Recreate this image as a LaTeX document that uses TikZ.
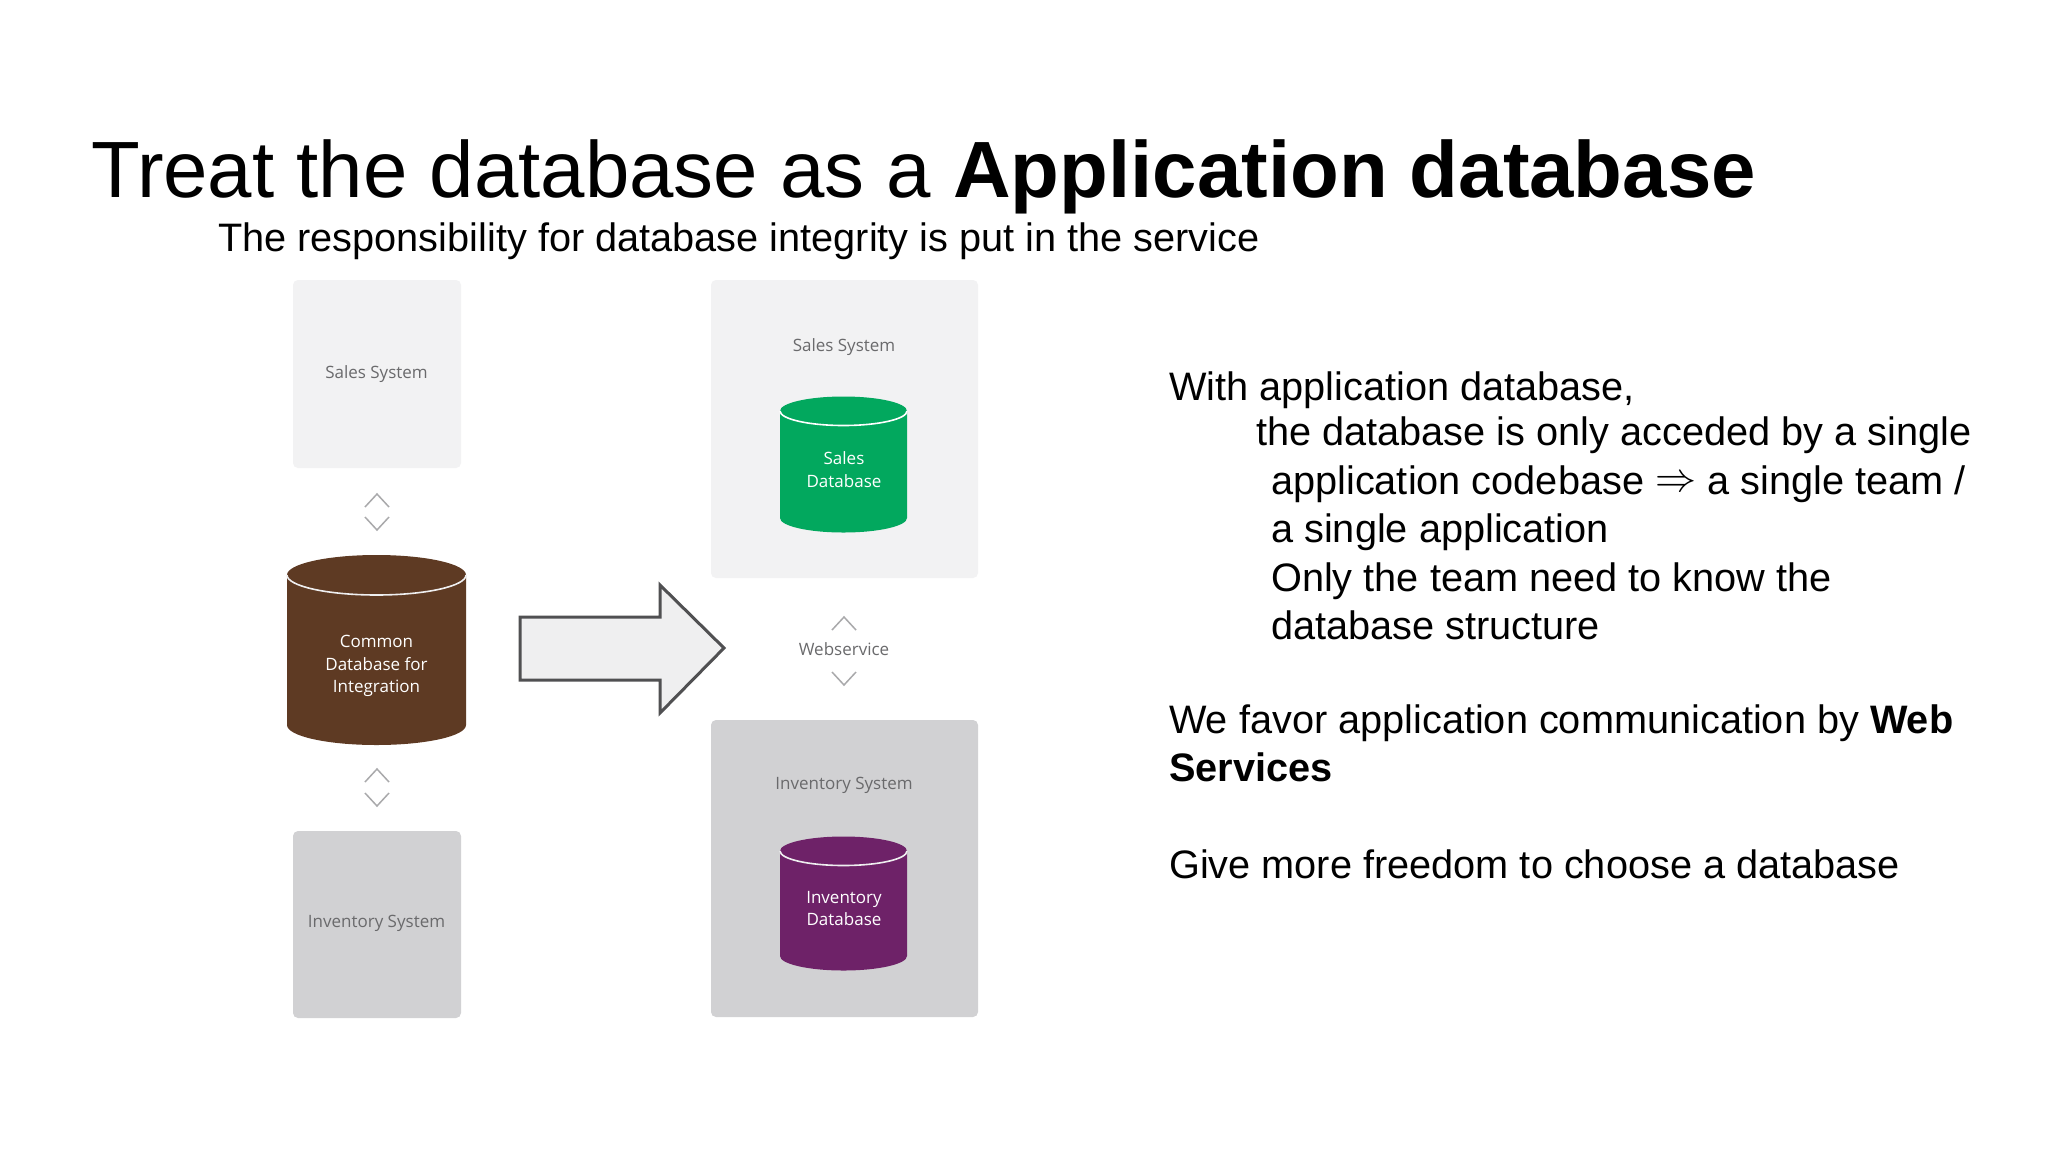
\documentclass[tikz,border=0pt]{standalone}
\usepackage{fontspec}
\setmainfont{Liberation Sans}
\newfontfamily\diagfont{Open Sans}
\definecolor{boxlight}{HTML}{F2F2F3}
\definecolor{boxdark}{HTML}{D1D1D3}
\definecolor{dbbrown}{HTML}{5E3A23}
\definecolor{dbgreen}{HTML}{02A85E}
\definecolor{dbpurple}{HTML}{6E2268}
\definecolor{labelgrey}{HTML}{6A6A6C}
\definecolor{chevgrey}{HTML}{A9A9AB}
\definecolor{arrowedge}{HTML}{505052}
\definecolor{arrowfill}{HTML}{EFEFF0}
\tikzset{
  sysbox/.style={rounded corners=5pt,draw=none},
  syslabel/.style={font=\diagfont\fontsize{17}{22}\selectfont,text=labelgrey,inner sep=0pt,align=center},
  dblabel/.style={font=\diagfont\fontsize{17}{22.6}\selectfont,text=white,inner sep=0pt,align=center},
  chevron/.style={draw=chevgrey,line width=1.5pt,line join=miter},
  title/.style={anchor=base west,inner sep=0pt,font=\fontsize{79.8}{90}\selectfont},
  subtitle/.style={anchor=base west,inner sep=0pt,font=\fontsize{39.7}{48}\selectfont},
  bodytext/.style={anchor=base west,inner sep=0pt,font=\fontsize{39.7}{48}\selectfont},
  rim/.style={draw=#1,line width=1.6pt}
}
% x1, x2, rim centre y, bottom side y, ry, colour, rim colour
\newcommand{\dbcyl}[7]{%
  \fill[#6] (#1,#3) arc[start angle=180,end angle=360,x radius={(#2-#1)/2},y radius=#5]
    -- (#2,#4) arc[start angle=0,end angle=180,x radius={(#2-#1)/2},y radius=#5] -- cycle;
  \draw[rim=#7] (#1,#3) arc[start angle=180,end angle=0,x radius={(#2-#1)/2},y radius=#5];
}
\newcommand{\chevup}[2]{\draw[chevron] (#1-12,#2+13) -- (#1,#2) -- (#1+12,#2+13);}
\newcommand{\chevdown}[2]{\draw[chevron] (#1-12,#2-13) -- (#1,#2) -- (#1+12,#2-13);}
\begin{document}
\begin{tikzpicture}[x=1pt,y=-1pt]
\useasboundingbox (0,0) rectangle (2048,1152);
\fill[white] (0,0) rectangle (2048,1152);

\node[title] (ttl) at (91,197) {Treat the database as a \textbf{Application database}};
\node[subtitle] (sub) at (218,251) {The responsibility for database integrity is put in the service};

% left column
\fill[sysbox,boxlight] (293,280) rectangle (461,468);
\node[syslabel] (lsales) at (376.5,374) {Sales System};
\chevup{377}{494}\chevdown{377}{530}
\dbcyl{287}{466}{575}{725}{20}{dbbrown}{arrowfill}
\node[dblabel] (lcommon) at (376.5,666) {Common\\Database for\\Integration};
\chevup{377}{769}\chevdown{377}{806}
\fill[sysbox,boxdark] (293,831) rectangle (461,1018);
\node[syslabel] (linv) at (376.5,923.5) {Inventory System};

% arrow
\draw[draw=arrowedge,fill=arrowfill,line width=3pt,line join=miter]
  (520,617) -- (660,617) -- (660,585) -- (724,648) -- (660,713) -- (660,680) -- (520,680) -- cycle;

% right column
\fill[sysbox,boxlight] (711,280) rectangle (978,578);
\node[syslabel] (rsales) at (844,347) {Sales System};
\dbcyl{780}{907}{411}{518}{14.5}{dbgreen}{white}
\node[dblabel] (rsalesdb) at (844,469.5) {Sales\\Database};
\chevup{844}{617}
\node[syslabel] (ws) at (844,649.5) {Webservice};
\chevdown{844}{685}
\fill[sysbox,boxdark] (711,720) rectangle (978,1017);
\node[syslabel] (rinv) at (844,785) {Inventory System};
\dbcyl{780}{907}{851}{956}{14.5}{dbpurple}{arrowfill}
\node[dblabel] (rinvdb) at (844,908.5) {Inventory\\Database};

% body text
\node[bodytext] (b1) at (1169,400) {With application database,};
\node[bodytext] (b2) at (1256,445.5) {the database is only acceded by a single};
\node[bodytext] (b3) at (1271,494.5) {application codebase \raisebox{3pt}{\scalebox{1.65}{$\Rightarrow$}} a single team /};
\node[bodytext] (b4) at (1271,542.5) {a single application};
\node[bodytext] (b5) at (1271,591) {Only the team need to know the};
\node[bodytext] (b6) at (1271,639.5) {database structure};
\node[bodytext] (b7) at (1169,733.5) {We favor application communication by \textbf{Web}};
\node[bodytext] (b8) at (1169,781.5) {\textbf{Services}};
\node[bodytext] (b9) at (1169,878) {Give more freedom to choose a database};
\end{tikzpicture}
\end{document}
